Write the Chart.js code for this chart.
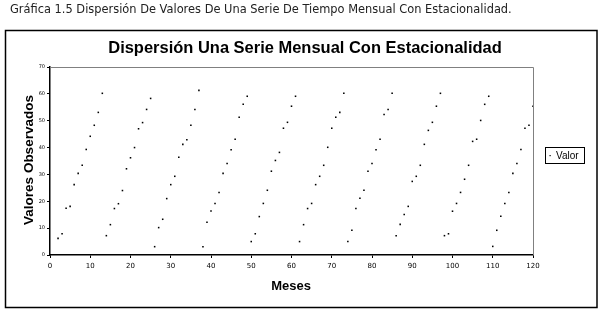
<!DOCTYPE html>
<html><head><meta charset="utf-8">
<script src="https://cdn.jsdelivr.net/npm/chart.js@4/dist/chart.umd.min.js"></script>
<style>html,body{margin:0;padding:0;background:#fff;}#wrap{width:599px;height:312px;position:relative;}</style>
</head><body><div id="wrap"><canvas id="c" width="599" height="312"></canvas></div>
<script>
const caption = "Gráfica 1.5 Dispersión De Valores De Una Serie De Tiempo Mensual Con Estacionalidad.";
const chartTitle = "Dispersión Una Serie Mensual Con Estacionalidad";
const xTitle = "Meses";
const yTitle = "Valores Observados";
const seriesName = "Valor";
const months = [2,3,4,5,6,7,8,9,10,11,12,13,
14,15,16,17,18,19,20,21,22,23,24,25,
26,27,28,29,30,31,32,33,34,35,36,37,
38,39,40,41,42,43,44,45,46,47,48,49,
50,51,52,53,54,55,56,57,58,59,60,61,
62,63,64,65,66,67,68,69,70,71,72,73,
74,75,76,77,78,79,80,81,82,83,84,85,
86,87,88,89,90,91,92,93,94,95,96,97,
98,99,100,101,102,103,104,105,106,107,108,109,
110,111,112,113,114,115,116,117,118,119,120];
const values = [6.2,7.9,17.4,18.1,26.2,30.4,33.4,39.3,44.2,48.3,53.1,60.2,
7.2,11.3,17.3,19.1,24.0,32.1,36.2,40.0,47.0,49.3,54.2,58.3,
3.1,10.2,13.3,21.0,26.2,29.3,36.4,41.2,42.9,48.3,54.2,61.3,
3.1,12.2,16.4,19.2,23.3,30.4,34.1,39.2,43.1,51.3,56.1,59.1,
5.0,7.9,14.3,19.2,24.1,31.2,35.2,38.2,47.2,49.4,55.4,59.1,
5.0,11.3,17.3,19.2,26.2,29.3,33.4,40.1,47.2,51.3,53.1,60.2,
5.0,9.2,17.3,21.1,24.1,31.2,34.1,39.2,43.1,52.3,54.2,60.2,
7.2,11.4,15.1,18.1,27.4,29.3,33.4,41.2,46.4,49.4,55.4,60.2,
7.2,7.9,16.3,19.2,23.3,28.2,33.4,42.3,43.1,50.1,56.1,59.1,
3.2,9.2,14.4,19.2,23.3,30.4,34.1,39.3,47.2,48.3,55.4];
const xTicks = [0,10,20,30,40,50,60,70,80,90,100,110,120];
const yTicks = [0,10,20,30,40,50,60,70];

function fitFont(ctx, text, weight, family, target){
  let s = 20;
  ctx.font = weight + " " + s + "px " + family;
  const w = ctx.measureText(text).width;
  return s * target / w;
}

const decor = {
  id: 'decor',
  beforeDraw(chart){
    const ctx = chart.ctx;
    ctx.save();
    ctx.fillStyle = '#fff';
    ctx.fillRect(0,0,chart.width,chart.height);
    // caption
    let fs = fitFont(ctx, caption, 'normal', '"DejaVu Sans"', 502);
    ctx.font = 'normal ' + fs + 'px "DejaVu Sans"';
    ctx.fillStyle = '#222';
    ctx.textBaseline = 'middle';
    ctx.textAlign = 'left';
    ctx.fillText(caption, 10, 10);
    // frame
    ctx.strokeStyle = '#000';
    ctx.lineWidth = 1.5;
    ctx.strokeRect(5.5, 30.5, 591.5, 277);
    // title
    fs = fitFont(ctx, chartTitle, 'bold', '"Liberation Sans"', 394);
    ctx.font = 'bold ' + fs + 'px "Liberation Sans"';
    ctx.fillStyle = '#000';
    ctx.textAlign = 'center';
    ctx.fillText(chartTitle, 305, 48);
    // axis titles
    ctx.font = 'bold 13px "Liberation Sans"';
    ctx.fillText(xTitle, 291, 286);
    ctx.save();
    ctx.translate(29, 160);
    ctx.rotate(-Math.PI/2);
    fs = fitFont(ctx, yTitle, 'bold', '"Liberation Sans"', 130);
    ctx.font = 'bold ' + fs + 'px "Liberation Sans"';
    ctx.fillText(yTitle, 0, 0);
    ctx.restore();
    // legend
    ctx.lineWidth = 1;
    ctx.strokeStyle = '#000';
    ctx.strokeRect(545.5, 147.5, 39, 16);
    ctx.fillRect(549.5, 155, 1.2, 1.2);
    ctx.font = 'normal 10px "Liberation Sans"';
    ctx.textAlign = 'left';
    ctx.fillText(chart.data.datasets[0].label, 556, 156);
    ctx.restore();
  },
  beforeDatasetsDraw(chart){
    const {ctx, chartArea:a} = chart;
    ctx.save();
    ctx.strokeStyle = '#808080';
    ctx.lineWidth = 1;
    ctx.beginPath();
    ctx.moveTo(a.left, a.top + 0.5);
    ctx.lineTo(a.right + 0.5, a.top + 0.5);
    ctx.lineTo(a.right + 0.5, a.bottom);
    ctx.stroke();
    ctx.restore();
  }
};

new Chart(document.getElementById('c'), {
  type: 'scatter',
  data: {
    datasets: [{
      label: seriesName,
      data: months.map((m,i)=>({x:m, y:values[i]})),
      pointStyle: 'rect',
      pointRadius: 1.1,
      pointBorderWidth: 0,
      backgroundColor: '#000',
      borderColor: '#000'
    }]
  },
  options: {
    responsive: false,
    animation: false,
    layout: {padding: {left: 0, top: 67, right: 66, bottom: 0}},
    plugins: {legend: {display: false}, tooltip: {enabled: false}, title: {display: false}},
    scales: {
      x: {
        type: 'linear', min: 0, max: 120,
        afterBuildTicks(s){ s.ticks = xTicks.map(v=>({value:v})); },
        afterFit(s){ s.height = 57; },
        grid: {drawOnChartArea: false, drawTicks: true, tickLength: 3, color: '#000'},
        border: {display: true, color: '#000', width: 1.5},
        ticks: {color: '#000', font: {family: '"DejaVu Sans"', size: 7}, padding: 4, autoSkip: false, maxRotation: 0}
      },
      y: {
        min: 0, max: 70,
        afterBuildTicks(s){ s.ticks = yTicks.map(v=>({value:v})); },
        afterFit(s){ s.width = 50; },
        grid: {drawOnChartArea: false, drawTicks: true, tickLength: 3, color: '#000'},
        border: {display: true, color: '#000', width: 1.5},
        ticks: {color: '#000', font: {family: '"DejaVu Sans"', size: 5}, padding: 2, autoSkip: false}
      }
    }
  },
  plugins: [decor]
});
</script>
</body></html>
